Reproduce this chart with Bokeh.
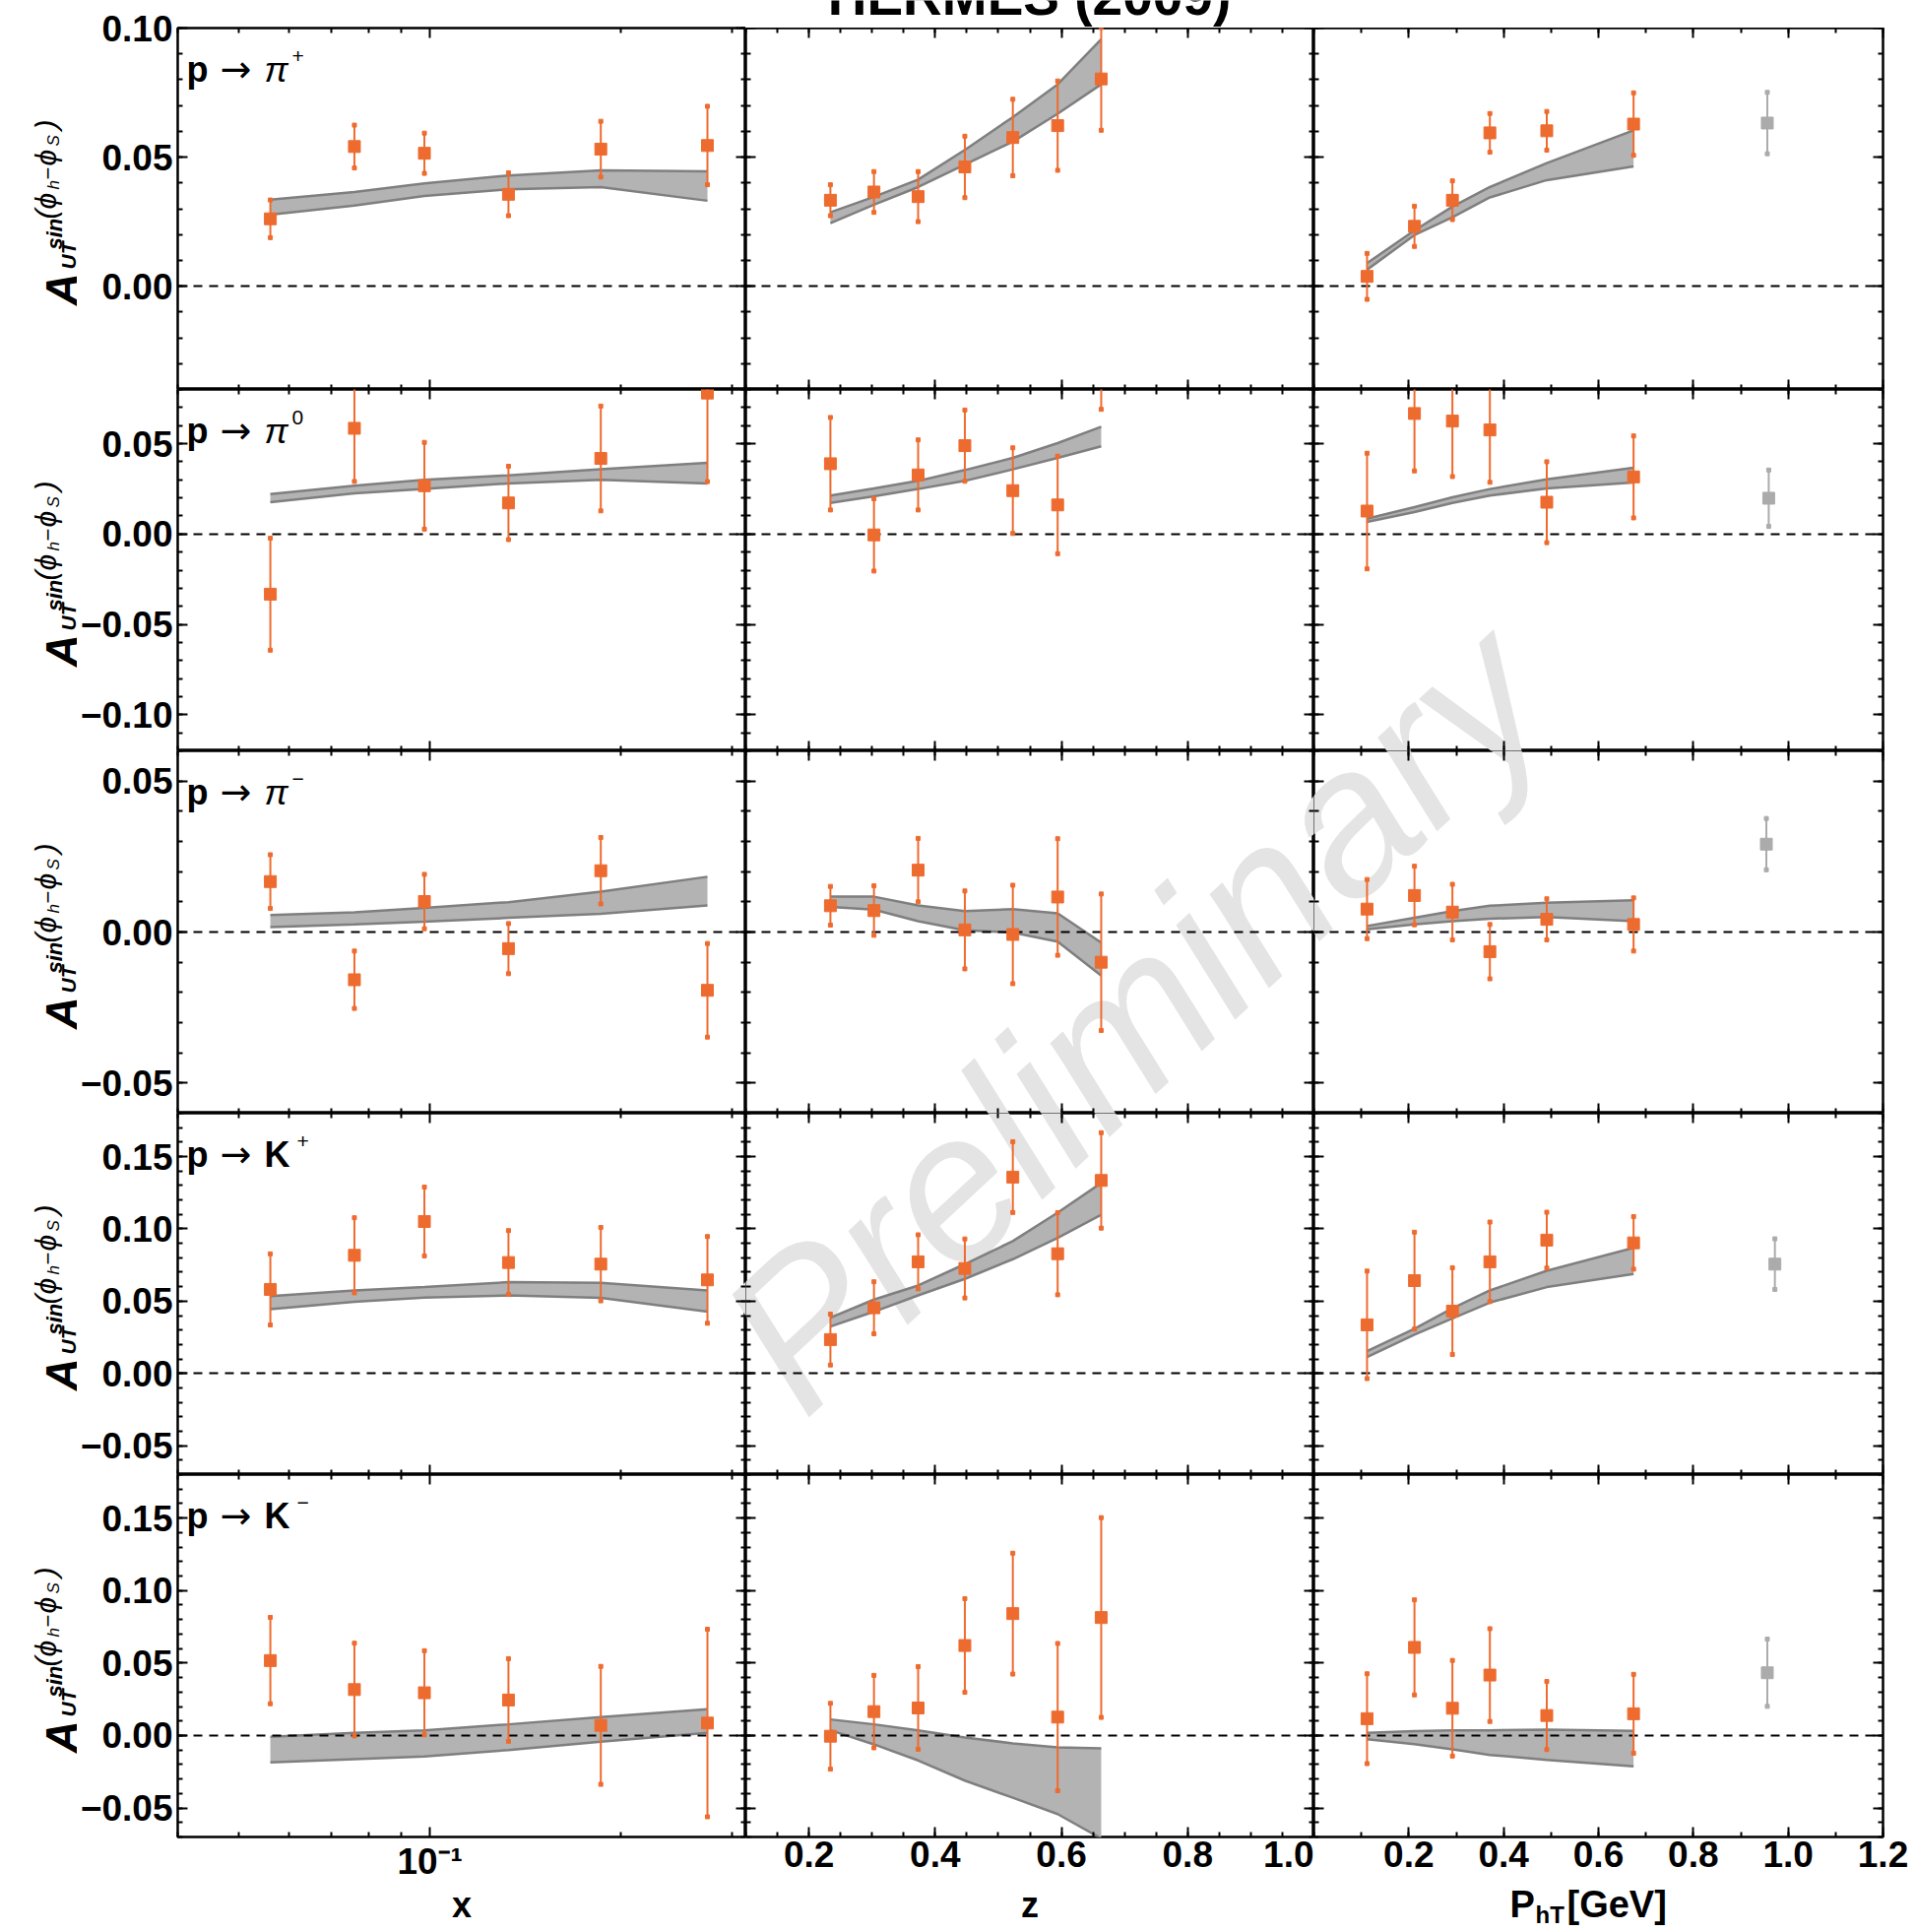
import math
from bokeh.plotting import figure
from bokeh.models import (LinearAxis, LogAxis, FixedTicker, CustomJSTickFormatter,
                          Label, Range1d)
from bokeh.layouts import column, row
from bokeh.embed import file_html
from bokeh.resources import INLINE
from bokeh.core.properties import value

# ---------------------------------------------------------------- data
X_BINS = [0.056, 0.076, 0.098, 0.133, 0.186, 0.274]
Z_BINS = [0.234, 0.303, 0.373, 0.447, 0.523, 0.594, 0.663]
PT_BINS = [0.112, 0.212, 0.292, 0.371, 0.491, 0.674]

# p -> pi+
PIP_X_A = [0.0261, 0.0541, 0.0515, 0.0356, 0.0531, 0.0545]
PIP_X_E = [0.0073, 0.0083, 0.0078, 0.0083, 0.0108, 0.0152]
PIP_X_UP = [0.0335, 0.0365, 0.0398, 0.0429, 0.0449, 0.0445]
PIP_X_LO = [0.0277, 0.0312, 0.0350, 0.0375, 0.0384, 0.0331]
PIP_Z_A = [0.0333, 0.0365, 0.0347, 0.0462, 0.0576, 0.0622, 0.0803]
PIP_Z_E = [0.0060, 0.0079, 0.0097, 0.0119, 0.0148, 0.0173, 0.0199]
PIP_Z_UP = [0.0286, 0.0346, 0.0413, 0.0528, 0.0655, 0.0782, 0.0957]
PIP_Z_LO = [0.0244, 0.0316, 0.0384, 0.0471, 0.0560, 0.0668, 0.0782]
PIP_P_A = [0.0038, 0.0232, 0.0333, 0.0594, 0.0602, 0.0628]
PIP_P_E = [0.0089, 0.0078, 0.0075, 0.0075, 0.0075, 0.0121]
PIP_P_UP = [0.0089, 0.0216, 0.0308, 0.0384, 0.0477, 0.0604]
PIP_P_LO = [0.0064, 0.0198, 0.0267, 0.0344, 0.0411, 0.0464]

# p -> pi0
PI0_X_A = [-0.0333, 0.0585, 0.0267, 0.0172, 0.0418, 0.0780]
PI0_X_E = [0.0310, 0.0294, 0.0240, 0.0203, 0.0290, 0.0490]
PI0_X_UP = [0.0221, 0.0267, 0.0300, 0.0325, 0.0358, 0.0394]
PI0_X_LO = [0.0176, 0.0225, 0.0249, 0.0280, 0.0300, 0.0280]
PI0_Z_A = [0.0389, -0.0005, 0.0327, 0.0489, 0.0240, 0.0161, 0.0990]
PI0_Z_E = [0.0256, 0.0200, 0.0194, 0.0197, 0.0237, 0.0270, 0.0300]
PI0_Z_UP = [0.0213, 0.0252, 0.0294, 0.0354, 0.0421, 0.0503, 0.0594]
PI0_Z_LO = [0.0172, 0.0209, 0.0249, 0.0294, 0.0358, 0.0421, 0.0485]
PI0_P_A = [0.0127, 0.0667, 0.0625, 0.0576, 0.0176, 0.0316]
PI0_P_E = [0.0320, 0.0318, 0.0307, 0.0290, 0.0224, 0.0227]
PI0_P_UP = [0.0085, 0.0149, 0.0203, 0.0249, 0.0303, 0.0367]
PI0_P_LO = [0.0067, 0.0122, 0.0172, 0.0213, 0.0252, 0.0285]

# p -> pi-
PIM_X_A = [0.0167, -0.0158, 0.0101, -0.0055, 0.0203, -0.0193]
PIM_X_E = [0.0089, 0.0095, 0.0090, 0.0083, 0.0110, 0.0155]
PIM_X_UP = [0.0056, 0.0065, 0.0080, 0.0099, 0.0134, 0.0183]
PIM_X_LO = [0.0016, 0.0025, 0.0034, 0.0047, 0.0060, 0.0088]
PIM_Z_A = [0.0087, 0.0071, 0.0205, 0.0007, -0.0008, 0.0116, -0.0100]
PIM_Z_E = [0.0064, 0.0082, 0.0105, 0.0129, 0.0163, 0.0193, 0.0226]
PIM_Z_UP = [0.0117, 0.0117, 0.0088, 0.0069, 0.0076, 0.0062, -0.0035]
PIM_Z_LO = [0.0083, 0.0074, 0.0036, 0.0006, -0.0002, -0.0032, -0.0144]
PIM_P_A = [0.0076, 0.0121, 0.0066, -0.0065, 0.0042, 0.0025]
PIM_P_E = [0.0098, 0.0097, 0.0092, 0.0090, 0.0068, 0.0088]
PIM_P_UP = [0.0020, 0.0047, 0.0069, 0.0087, 0.0097, 0.0105]
PIM_P_LO = [0.0009, 0.0025, 0.0036, 0.0044, 0.0050, 0.0036]

# p -> K+
KP_X_A = [0.0581, 0.0817, 0.1051, 0.0767, 0.0756, 0.0647]
KP_X_E = [0.0246, 0.0260, 0.0238, 0.0221, 0.0254, 0.0300]
KP_X_UP = [0.0535, 0.0574, 0.0597, 0.0631, 0.0627, 0.0574]
KP_X_LO = [0.0445, 0.0495, 0.0525, 0.0540, 0.0522, 0.0427]
KP_Z_A = [0.0234, 0.0454, 0.0772, 0.0726, 0.1358, 0.0828, 0.1335]
KP_Z_E = [0.0176, 0.0180, 0.0187, 0.0204, 0.0245, 0.0284, 0.0330]
KP_Z_UP = [0.0386, 0.0511, 0.0608, 0.0756, 0.0915, 0.1112, 0.1317]
KP_Z_LO = [0.0324, 0.0427, 0.0540, 0.0654, 0.0790, 0.0937, 0.1097]
KP_P_A = [0.0336, 0.0642, 0.0431, 0.0772, 0.0922, 0.0903]
KP_P_E = [0.0372, 0.0335, 0.0300, 0.0275, 0.0193, 0.0182]
KP_P_UP = [0.0154, 0.0309, 0.0450, 0.0574, 0.0710, 0.0869]
KP_P_LO = [0.0113, 0.0268, 0.0381, 0.0490, 0.0597, 0.0688]

# p -> K-
KM_X_A = [0.0517, 0.0317, 0.0295, 0.0245, 0.0070, 0.0086]
KM_X_E = [0.0298, 0.0320, 0.0290, 0.0285, 0.0407, 0.0647]
KM_X_UP = [-0.0009, 0.0018, 0.0036, 0.0077, 0.0127, 0.0181]
KM_X_LO = [-0.0186, -0.0163, -0.0145, -0.0100, -0.0043, 0.0018]
KM_Z_A = [-0.0005, 0.0165, 0.0190, 0.0621, 0.0841, 0.0127, 0.0814]
KM_Z_E = [0.0227, 0.0250, 0.0285, 0.0323, 0.0417, 0.0508, 0.0689]
KM_Z_UP = [0.0111, 0.0077, 0.0036, -0.0014, -0.0054, -0.0082, -0.0088]
KM_Z_LO = [0.0036, -0.0061, -0.0172, -0.0311, -0.0429, -0.0542, -0.0710]
KM_P_A = [0.0116, 0.0608, 0.0188, 0.0417, 0.0138, 0.0150]
KM_P_E = [0.0310, 0.0328, 0.0330, 0.0320, 0.0235, 0.0272]
KM_P_UP = [0.0018, 0.0030, 0.0036, 0.0036, 0.0041, 0.0032]
KM_P_LO = [-0.0025, -0.0059, -0.0095, -0.0134, -0.0168, -0.0213]

# extra (gray) P_hT point per hadron: x, A, err
GRAY_X = [0.956, 0.959, 0.954, 0.972, 0.956]
GRAY_A = [0.0632, 0.0198, 0.0291, 0.0756, 0.0433]
GRAY_E = [0.0119, 0.0156, 0.0085, 0.0175, 0.0232]

HADRON_BASE = ["π", "π", "π", "K", "K"]
HADRON_SUP = ["+", "0", "−", "+", "−"]

Y_RANGES = [(-0.04, 0.10), (-0.12, 0.08), (-0.06, 0.06), (-0.07, 0.18), (-0.07, 0.18)]
Y_TICKS = [[0.0, 0.05, 0.10],
           [-0.10, -0.05, 0.0, 0.05],
           [-0.05, 0.0, 0.05],
           [-0.05, 0.0, 0.05, 0.10, 0.15],
           [-0.05, 0.0, 0.05, 0.10, 0.15]]
X_RANGES = [(0.04, 0.315), (0.1, 1.0), (0.0, 1.2)]
X_TICKS = [[0.1], [0.2, 0.4, 0.6, 0.8, 1.0], [0.2, 0.4, 0.6, 0.8, 1.0, 1.2]]
X_MINOR = [[0.04, 0.05, 0.06, 0.07, 0.08, 0.09, 0.2, 0.3],
           [round(0.1 + 0.05 * i, 2) for i in range(19)],
           [round(0.1 * i, 1) for i in range(13)]]
X_TICK_LABEL_LOG = "10\u207b\u00b9"
X_LABELS = ["x", "z"]
PT_LABEL = ("P", "hT", "[GeV]")
TITLE = "HERMES (2009)"
WATERMARK = "Preliminary"

PANELS = [
    [(X_BINS, PIP_X_A, PIP_X_E, PIP_X_UP, PIP_X_LO), (Z_BINS, PIP_Z_A, PIP_Z_E, PIP_Z_UP, PIP_Z_LO), (PT_BINS, PIP_P_A, PIP_P_E, PIP_P_UP, PIP_P_LO)],
    [(X_BINS, PI0_X_A, PI0_X_E, PI0_X_UP, PI0_X_LO), (Z_BINS, PI0_Z_A, PI0_Z_E, PI0_Z_UP, PI0_Z_LO), (PT_BINS, PI0_P_A, PI0_P_E, PI0_P_UP, PI0_P_LO)],
    [(X_BINS, PIM_X_A, PIM_X_E, PIM_X_UP, PIM_X_LO), (Z_BINS, PIM_Z_A, PIM_Z_E, PIM_Z_UP, PIM_Z_LO), (PT_BINS, PIM_P_A, PIM_P_E, PIM_P_UP, PIM_P_LO)],
    [(X_BINS, KP_X_A, KP_X_E, KP_X_UP, KP_X_LO), (Z_BINS, KP_Z_A, KP_Z_E, KP_Z_UP, KP_Z_LO), (PT_BINS, KP_P_A, KP_P_E, KP_P_UP, KP_P_LO)],
    [(X_BINS, KM_X_A, KM_X_E, KM_X_UP, KM_X_LO), (Z_BINS, KM_Z_A, KM_Z_E, KM_Z_UP, KM_Z_LO), (PT_BINS, KM_P_A, KM_P_E, KM_P_UP, KM_P_LO)],
]

# ---------------------------------------------------------------- styling / layout
FONT = "Liberation Sans"
ORANGE = "#EE6B2F"
GRAYPT = "#ABABAB"
BAND_FILL = "#B3B3B3"
BAND_LINE = "#7F7F7F"
WM_COLOR = "#E4E4E4"
TICK_FONT = "37px"
BASE_FIX = 0.27             # observed baseline offset of rendered labels (in em)

COL_W = [577, 577, 578]
ROW_H = [367, 367, 368, 367, 368]
YLAB_W = 78                 # strip holding the rotated y-axis titles
LEFT_B = 180 - YLAB_W       # border for tick labels of the first column
RIGHT_B = 30
TOP = 28                    # page y of the frames' top
BOT_AX = 48                 # border below last row (tick labels)
XLAB_H = 48                 # strip holding the x-axis titles
TOTAL_W = YLAB_W + LEFT_B + sum(COL_W) + RIGHT_B
COL_LEFT = [YLAB_W + LEFT_B + sum(COL_W[:c]) for c in range(3)]
ROW_TOP = [TOP + sum(ROW_H[:r]) for r in range(5)]
GRID_BOTTOM = TOP + sum(ROW_H) + BOT_AX
PAGE_H = GRID_BOTTOM + XLAB_H

WM_CENTER = (1151, 1032)
WM_ANGLE = math.radians(43)
WM_SIZE = "210px"
WM_PANELS = [(1, 2), (2, 1), (2, 2), (3, 0), (3, 1)]

Y_FMT = CustomJSTickFormatter(code="""
    const s = Math.abs(tick) < 1e-9 ? '0.00' : tick.toFixed(2);
    return s.replace('-', '\\u2212');
""")
X_FMT = CustomJSTickFormatter(code="return tick.toFixed(1);")
LOG_FMT = CustomJSTickFormatter(code="return '%s';" % X_TICK_LABEL_LOG)
BLANK_FMT = CustomJSTickFormatter(code="return '';")


def style_axis(ax, show, standoff=5):
    ax.axis_line_color = None
    ax.major_tick_in = 10
    ax.major_tick_out = 0
    ax.minor_tick_in = 5
    ax.minor_tick_out = 0
    ax.major_tick_line_color = "black"
    ax.minor_tick_line_color = "black"
    ax.major_tick_line_width = 2
    ax.minor_tick_line_width = 2
    if show:
        ax.major_label_text_font = FONT
        ax.major_label_text_font_size = TICK_FONT
        ax.major_label_text_font_style = "bold"
        ax.major_label_text_color = "black"
        ax.major_label_standoff = standoff
    else:
        ax.formatter = BLANK_FMT
        ax.major_label_text_font_size = "0px"
        ax.major_label_standoff = 0
    return ax


def page_to_data(r, c, px, py):
    fx = (px - COL_LEFT[c]) / COL_W[c]
    fy = (py - ROW_TOP[r]) / ROW_H[r]
    x0, x1 = X_RANGES[c]
    if c == 0:
        x = 10 ** (math.log10(x0) + fx * (math.log10(x1) - math.log10(x0)))
    else:
        x = x0 + fx * (x1 - x0)
    y0, y1 = Y_RANGES[r]
    return x, y1 - fy * (y1 - y0)


def add_label(p, text, x, y, size, style="bold", font=FONT, angle=0.0, align="left"):
    """Label in screen px relative to the frame's bottom-left corner; (x, y) is
    the wanted baseline start."""
    if angle == 0.0:
        y = y + BASE_FIX * size
    else:
        x = x - BASE_FIX * size
    p.add_layout(Label(x=x, y=y, x_units="screen", y_units="screen", text=text,
                       text_font=font, text_font_size="%dpx" % size,
                       text_font_style=style, text_color="black", angle=angle,
                       text_align=align, text_baseline="alphabetic"))


def strip_fig(w, h):
    f = figure(width=w, height=h, x_range=Range1d(0, w), y_range=Range1d(0, h),
               x_axis_location=None, y_axis_location=None, toolbar_location=None,
               tools="", title=None, output_backend="svg", min_border=0,
               background_fill_color="white", border_fill_color="white")
    f.grid.visible = False
    f.outline_line_color = None
    return f


def make_panel(r, c):
    p = figure(frame_width=COL_W[c], frame_height=ROW_H[r],
               x_range=Range1d(*X_RANGES[c]), y_range=Range1d(*Y_RANGES[r]),
               x_axis_type="log" if c == 0 else "linear",
               x_axis_location=None, y_axis_location=None,
               toolbar_location=None, tools="", title=None,
               output_backend="svg",
               min_border=0,
               min_border_left=LEFT_B if c == 0 else 0,
               min_border_right=RIGHT_B if c == 2 else 0,
               min_border_top=TOP if (r == 0 and c == 0) else 0,
               min_border_bottom=BOT_AX if r == 4 else 0,
               background_fill_color="white", border_fill_color="white")
    p.grid.visible = False
    p.outline_line_color = "black"
    p.outline_line_width = 2.5

    y0, y1 = Y_RANGES[r]
    nminor = int(round((y1 - y0) / 0.01))
    ytick = FixedTicker(ticks=Y_TICKS[r], minor_ticks=[round(y0 + 0.01 * i, 2) for i in range(nminor + 1)])
    xtick = FixedTicker(ticks=X_TICKS[c], minor_ticks=X_MINOR[c])
    axcls = LogAxis if c == 0 else LinearAxis
    p.add_layout(style_axis(LinearAxis(ticker=ytick, formatter=Y_FMT), c == 0, 5), "left")
    p.add_layout(style_axis(LinearAxis(ticker=ytick), False), "right")
    p.add_layout(style_axis(axcls(ticker=xtick, formatter=LOG_FMT if c == 0 else X_FMT), r == 4, 4), "below")
    p.add_layout(style_axis(axcls(ticker=xtick), False), "above")

    if (r, c) in WM_PANELS:
        wx, wy = page_to_data(r, c, *WM_CENTER)
        p.text(x=[wx], y=[wy], text=[WATERMARK], angle=WM_ANGLE,
               text_font=value(FONT), text_font_style="italic", text_font_size=WM_SIZE,
               text_color=WM_COLOR, text_align="center", text_baseline="middle")

    xs, A, E, UP, LO = PANELS[r][c]
    p.varea(x=xs, y1=LO, y2=UP, fill_color=BAND_FILL)
    p.line(xs, UP, line_color=BAND_LINE, line_width=2.5)
    p.line(xs, LO, line_color=BAND_LINE, line_width=2.5)
    p.hspan(y=[0.0], line_color="black", line_width=2, line_dash="9 7")

    def points(xv, av, ev, color):
        lo = [a - e for a, e in zip(av, ev)]
        hi = [a + e for a, e in zip(av, ev)]
        p.segment(x0=xv, y0=lo, x1=xv, y1=hi, line_color=color, line_width=2)
        p.scatter(xv + xv, lo + hi, marker="square", size=4, color=color)
        p.scatter(xv, av, marker="square", size=12, color=color)

    points(list(xs), A, E, ORANGE)
    if c == 2:
        points([GRAY_X[r]], [GRAY_A[r]], [GRAY_E[r]], GRAYPT)

    h = ROW_H[r]
    if c == 0:
        add_label(p, "p", 9, h - 52, 36, "bold")
        add_label(p, "→", 43, h - 52, 38, "normal", "DejaVu Sans")
        if HADRON_BASE[r] == "π":
            add_label(p, "π", 88, h - 52, 36, "italic")
            add_label(p, HADRON_SUP[r], 116, h - 34, 21, "normal")
        else:
            add_label(p, "K", 88, h - 52, 36, "bold")
            add_label(p, HADRON_SUP[r], 121, h - 34, 21, "normal")
    return p


# ---------------------------------------------------------------- strips with text
# y-axis titles  A_UT^{sin(phi_h - phi_S)}  (rotated), one per row
ylab = strip_fig(YLAB_W, GRID_BOTTOM)
ROT = math.pi / 2
YLAB_PIECES = [("A", 75, 85, 46, "bold italic"),
               ("UT", 75, 122, 21, "bold italic"),
               ("sin", 61, 142, 22, "bold italic"),
               ("(", 54, 173, 30, "italic"),
               ("ϕ", 54, 183, 30, "italic"),
               ("h", 59, 203, 17, "italic"),
               ("−", 54, 213, 22, "normal"),
               ("ϕ", 54, 227, 30, "italic"),
               ("S", 59, 247, 17, "italic"),
               (")", 54, 264, 30, "italic")]
for r in range(5):
    frame_bottom = ROW_TOP[r] + ROW_H[r]
    for t, px, d, sz, st in YLAB_PIECES:
        add_label(ylab, t, px, GRID_BOTTOM - frame_bottom + d, sz, st, angle=ROT)

# title (clipped at the top of the page, as in the original)
title_w = COL_W[1] + COL_W[2] + RIGHT_B
tfig = strip_fig(title_w, TOP)
add_label(tfig, TITLE, 1045 - COL_LEFT[1], TOP - 10, 55, "bold", align="center")

# x-axis titles
xfig = strip_fig(TOTAL_W, XLAB_H)
base = PAGE_H - 1944
add_label(xfig, X_LABELS[0], COL_LEFT[0] + COL_W[0] / 2, base, 36, "bold", align="center")
add_label(xfig, X_LABELS[1], COL_LEFT[1] + COL_W[1] / 2, base, 36, "bold", align="center")
add_label(xfig, PT_LABEL[0], 1533, base, 38, "bold")
add_label(xfig, PT_LABEL[1], 1559, PAGE_H - 1950, 24, "bold")
add_label(xfig, PT_LABEL[2], 1591, base, 38, "bold")

# ---------------------------------------------------------------- assemble
panels = [[make_panel(r, c) for c in range(3)] for r in range(5)]
col1 = column(*[panels[r][0] for r in range(5)], spacing=0)
right = column(tfig, *[row(panels[r][1], panels[r][2], spacing=0) for r in range(5)], spacing=0)
main = row(ylab, col1, right, spacing=0)
layout = column(main, xfig, spacing=0)

open("out.html", "w").write(file_html(layout, INLINE, "HERMES (2009)"))
